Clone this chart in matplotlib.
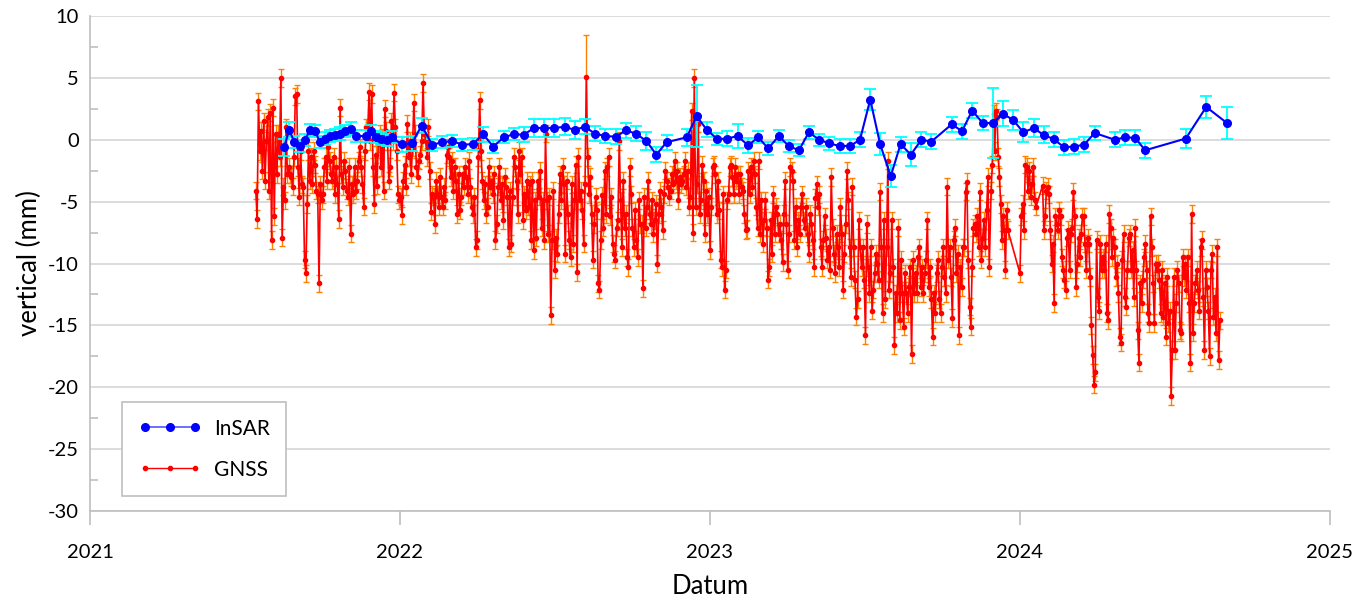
import numpy as np
import matplotlib.pyplot as plt
from matplotlib.lines import Line2D
from matplotlib.ticker import MultipleLocator

plt.rcParams['font.family'] = ['Lato', 'DejaVu Sans']
plt.rcParams['axes.unicode_minus'] = False

# InSAR: decimal year, vertical displacement (mm), error (mm)
insar_t = [2021.626, 2021.643, 2021.659, 2021.677, 2021.694, 2021.710, 2021.726, 2021.742, 2021.758, 2021.774,
           2021.790, 2021.806, 2021.823, 2021.841, 2021.858, 2021.890, 2021.905, 2021.923, 2021.940, 2021.957,
           2021.973, 2022.005, 2022.038, 2022.070, 2022.104, 2022.136, 2022.169, 2022.201, 2022.235, 2022.268,
           2022.301, 2022.335, 2022.367, 2022.399, 2022.432, 2022.465, 2022.498, 2022.531, 2022.564, 2022.596,
           2022.629, 2022.662, 2022.696, 2022.729, 2022.761, 2022.795, 2022.827, 2022.860, 2022.925, 2022.957,
           2022.990, 2023.024, 2023.056, 2023.089, 2023.123, 2023.156, 2023.188, 2023.222, 2023.254, 2023.287,
           2023.319, 2023.353, 2023.385, 2023.418, 2023.452, 2023.484, 2023.517, 2023.549, 2023.583, 2023.615,
           2023.648, 2023.682, 2023.714, 2023.780, 2023.813, 2023.846, 2023.880, 2023.912, 2023.945, 2023.978,
           2024.011, 2024.044, 2024.076, 2024.109, 2024.142, 2024.174, 2024.207, 2024.241, 2024.306, 2024.339,
           2024.372, 2024.404, 2024.535, 2024.601, 2024.668]
insar_v = [-0.6, 0.8, -0.2, -0.5, 0.0, 0.8, 0.7, -0.2, 0.1, 0.3,
           0.4, 0.5, 0.7, 0.9, 0.3, 0.3, 0.7, 0.2, 0.1, 0.0,
           0.2, -0.35, -0.3, 1.15, -0.4, -0.2, -0.1, -0.4, -0.35, 0.45,
           -0.55, 0.2, 0.45, 0.4, 0.95, 0.95, 0.95, 1.05, 0.8, 1.05,
           0.5, 0.3, 0.25, 0.75, 0.5, -0.1, -1.2, -0.2, 0.2, 1.9,
           0.8, 0.05, 0.1, 0.3, -0.45, 0.2, -0.7, 0.3, -0.5, -0.85,
           0.6, 0.0, -0.3, -0.5, -0.5, 0.0, 3.25, -0.35, -2.95, -0.35,
           -1.2, 0.0, -0.15, 1.25, 0.7, 2.35, 1.35, 1.35, 2.1, 1.6,
           0.6, 0.95, 0.4, 0.05, -0.6, -0.55, -0.4, 0.55, 0.0, 0.2,
           0.15, -0.85, 0.1, 2.65, 1.35]
insar_err = [0.7, 0.6, 0.5, 0.5, 0.5, 0.5, 0.5, 0.5, 0.5, 0.5,
             0.5, 0.5, 0.5, 0.5, 0.5, 0.5, 0.5, 0.5, 0.5, 0.5,
             0.5, 0.6, 0.6, 0.6, 0.5, 0.5, 0.5, 0.5, 0.5, 0.6,
             0.5, 0.5, 0.5, 0.6, 0.7, 0.7, 0.7, 0.7, 0.7, 0.6,
             0.6, 0.6, 0.6, 0.6, 0.6, 0.7, 0.6, 0.6, 0.7, 2.5,
             0.6, 0.5, 0.6, 1.0, 0.6, 0.5, 0.5, 0.5, 0.5, 0.5,
             0.5, 0.5, 0.5, 0.6, 0.6, 0.6, 0.85, 0.9, 0.9, 0.6,
             0.9, 0.6, 0.6, 0.6, 0.6, 0.6, 0.6, 2.8, 1.0, 0.8,
             0.8, 0.7, 0.7, 0.6, 0.6, 0.6, 0.6, 0.6, 0.6, 0.6,
             0.6, 0.6, 0.8, 0.9, 1.3]

# GNSS daily solutions, in runs without data gaps (start / end as decimal year)
gnss_start = [2021.535, 2023.907, 2024.000, 2024.073]
gnss_end = [2023.901, 2023.961, 2024.052, 2024.645]

gnss_run1 = [
    # 2021-07 .. 2022-03
    -4.1, -6.4, 3.1, -0.9, 0.7, -2.5, 1.5, -3.3, -0.1, 1.8, -4.1, 2.2, -8.1, 2.6, -6.2, 0.5, -2.8, 0.5, -1.4, 5.0,
    -7.9, -3.8, -4.9, 1.0, -2.8, -2.2, -2.8, -3.0, -3.8, -1.4, 3.5, 3.7, -2.2, -4.6, -0.9, -3.6, -3.8, -9.7, -10.8, -5.2,
    -0.9, -3.3, -1.4, -3.6, -0.9, -2.0, -4.1, -4.4, -11.6, -3.6, -4.9, -4.4, -2.2, -1.4, -3.3, -0.6, -1.7, -2.8, -3.3, -1.4,
    -4.4, -2.2, -3.6, -6.4, 2.6, -2.8, -3.8, -1.7, -2.5, -4.1, -4.6, -2.2, -7.6, -3.6, -4.4, -2.2, -4.1, -3.3, -1.7, -0.6,
    -2.2, -3.6, -5.4, -0.9, 1.0, 0.7, 3.9, -0.1, 3.7, -2.2, -5.2, -1.2, -3.7, -0.3, 0.5, -2.2, 0.2, -4.1, 2.5, 0.7,
    -0.1, -3.3, -2.2, 1.5, -0.1, 3.8, 1.0, -0.9, -4.4, -4.9, -4.6, -6.1, -3.3, -2.0, -3.8, 1.3, -1.4, -0.1, -2.8, -0.6,
    3.0, 0.5, -2.2, -3.0, -1.7, -1.2, -0.1, 4.6, 0.5, -0.1, -1.4, 1.0, -2.5, -5.8, -4.4, -4.6, -6.8, -3.3, -4.4, -5.4,
    -3.0, -4.6, -5.4, -3.8, -4.9, -1.2, -0.6, -1.4, -3.0, -1.7, -4.1, -2.2, -3.3, -6.0, -2.8, -5.7, -4.6, -2.8, -3.8, -2.2,
    -3.0, -4.4, -1.7, -3.8, -5.4, -6.0, -4.6, -8.7, -8.1, -1.4, 3.2, -0.9, -3.3, -4.9, -3.6, -6.0, -5.4, -2.2, -3.8, -3.3,
    -4.4, -2.8, -8.1, -6.8, -3.8,
    # 2022-04 .. 2022-12
    -2.2, -4.9, -3.6, -6.5, -3.0, -3.8, -4.6, -8.7, -4.1, -8.4, -4.6, -1.4, -2.2, -3.3, -6.0, -0.9, -2.8, -1.4, -6.5, -4.4,
    -5.7, -3.3, -5.4, -3.6, -8.1, -3.3, -8.9, -4.9, -7.9, -3.3, -4.6, -2.5, -7.1, -4.9, -8.1, 0.5, -4.9, -7.6, -4.6, -14.2,
    -8.1, -4.1, -10.5, -7.9, -9.2, -6.0, -2.8, -4.9, -2.2, -3.6, -9.2, -3.3, -6.0, -8.1, -9.5, -3.6, -8.4, -4.9, -2.0, -10.7,
    -1.4, -4.9, -4.1, -5.7, -8.4, -3.6, 5.1, -1.4, -4.4, -3.0, -6.0, -9.7, -6.8, -4.6, -5.7, -11.6, -12.1, -8.1, -4.5, -7.1,
    -2.5, -6.0, -2.2, -1.4, -6.2, -4.6, -8.4, -9.2, -9.7, -7.1, -6.5, -0.1, -4.9, -8.7, -3.3, -7.1, -6.0, -9.5, -10.3, -2.2,
    -4.4, -7.1, -8.7, -5.7, -8.1, -9.5, -4.9, -6.8, -6.8, -12.0, -4.6, -7.1, -5.4, -3.3, -6.0, -6.8, -4.9, -7.6, -6.5, -5.2,
    -10.0, -6.0, -4.1, -5.4, -7.3, -4.4, -2.5, -3.3, -3.8, -4.6, -4.1, -2.8, -3.6, -1.7, -3.3, -2.5, -4.9, -3.0, -3.6, -3.3,
    -2.8, -1.7, -3.8, -2.5, -5.4, -4.6, 2.3, -7.5, 5.0, -5.4, -3.6, 1.3, -6.0, -4.9, -2.0, -3.3, -7.6, -4.1, -6.0, -4.6,
    -8.9, -5.4, -2.2, -2.0, -2.8, -6.0, -3.3, -5.7, -9.7, -10.3, -4.4, -12.1, -10.5, -4.9, -4.4, -2.2, -2.0, -3.0, -4.4, -2.2,
    -3.3, -2.8, -4.4, -2.8, -3.8, -4.1, -6.0, -7.3,
    # 2023-01 .. 2023-11
    -7.2, -2.5, -4.4, -2.2, -3.8, -1.7, -2.8, -5.4, -7.1, -1.7, -7.6, -4.9, -8.4, -6.5, -4.9, -7.1, -11.3, -10.3, -6.5, -9.2,
    -4.4, -7.6, -5.4, -6.0, -7.6, -6.8, -8.1, -9.9, -6.0, -3.3, -6.8, -10.5, -7.6, -2.2, -2.5, -3.3, -8.1, -5.4, -8.7, -6.5,
    -7.6, -5.4, -4.4, -6.5, -7.1, -5.4, -7.6, -9.2, -6.0, -6.8, -8.1, -10.3, -4.7, -3.6, -5.4, -4.4, -8.7, -10.3, -8.1, -6.2,
    -7.9, -9.7, -8.7, -10.5, -3.0, -7.1, -9.2, -10.8, -7.6, -8.7, -10.3, -5.4, -7.6, -12.1, -9.2, -6.8, -2.5, -4.9, -8.7, -11.1,
    -3.8, -8.7, -11.3, -14.3, -12.9, -6.5, -8.7, -10.3, -8.7, -11.3, -15.8, -6.8, -10.3, -12.4, -8.7, -13.8, -12.1, -10.8, -9.2, -10.0,
    -11.3, -4.2, -8.7, -14.0, -6.5, -12.9, -8.7, -1.7, -12.1, -10.8, -6.5, -10.3, -16.6, -12.4, -14.0, -7.1, -14.6, -9.7, -12.4, -15.1,
    -10.8, -12.4, -14.0, -11.9, -10.3, -17.3, -9.7, -12.4, -10.8, -12.4, -9.5, -8.7, -11.9, -10.3, -12.4, -10.8, -9.7, -6.5, -11.9, -10.3,
    -12.9, -15.9, -12.4, -14.0, -10.8, -9.7, -12.9, -14.0, -10.3, -8.7, -11.1, -12.4, -3.8, -9.7, -8.7, -11.1, -14.4, -8.1, -7.1, -10.8,
    -9.2, -15.8, -10.3, -11.9, -8.7, -8.7, -4.2, -3.4, -9.7, -13.5, -15.1, -10.3, -7.1, -6.8, -7.6, -6.2, -8.7, -4.2, -9.7, -7.9,
    -6.5, -8.7, -5.7, -3.0, -10.3,
]
gnss_run2 = [-4.1, -2.0, 2.1, -0.9, 2.3, 1.8, -1.4, -3.0, -5.2, -8.1, -6.2, -7.3, -10.5, -5.7, -7.3]
gnss_run3 = [-10.8, -6.2, -5.2, -7.3, -2.0, -2.2, -4.1, -2.5, -4.6, -3.6, -2.2, -4.9, -5.4]
gnss_run4 = [
    -3.7, -7.3, -6.2, -4.1, -3.8, -4.4, -7.3, -10.0, -8.4, -13.2, -6.2, -6.8, -7.3, -5.7, -6.2, -9.5, -10.5, -11.3, -12.1, -7.9,
    -7.3, -10.5, -7.6, -7.1, -4.2, -6.2, -11.9, -10.0, -7.9, -9.5, -7.6, -6.2, -6.2, -8.4, -10.5, -7.9, -8.4, -11.1, -15.0, -17.4,
    -19.8, -18.8, -8.1, -12.7, -13.8, -8.4, -10.5, -9.5, -10.5, -8.4, -14.0, -14.6, -6.0, -7.1, -9.5, -7.9, -8.7, -11.1, -10.0, -12.4,
    -15.9, -16.4, -9.7, -7.6, -12.7, -13.5, -10.5, -7.9, -7.6, -10.5, -8.9, -12.7, -7.1, -10.5, -15.4, -18.0, -11.6, -13.2, -11.3, -9.5,
    -8.4, -10.5, -14.0, -14.8, -6.2, -8.7, -11.6, -14.8, -10.0, -10.5, -10.0, -11.3, -14.0, -10.5, -14.3, -11.6, -15.9, -11.1, -14.8, -13.8,
    -20.7, -17.0, -11.1, -17.0, -13.2, -10.5, -11.6, -15.4, -15.6, -9.5, -11.1, -10.0, -12.1, -9.5, -13.2, -18.0, -6.0, -15.6, -13.2, -11.6,
    -10.5, -12.1, -13.8, -8.7, -8.1, -12.7, -17.0, -10.5, -11.9, -13.8, -17.5, -10.5, -9.2, -14.3, -12.7, -15.6, -8.7, -17.8, -14.6,
]
gnss_err = 0.7
# one outlier with a much larger error bar (Aug 2022)
spike_t, spike_err = 2022.596, 3.4

gnss_runs = [gnss_run1, gnss_run2, gnss_run3, gnss_run4]
gnss_t = np.concatenate([np.linspace(a, b, len(v)) for a, b, v in zip(gnss_start, gnss_end, gnss_runs)])
gnss_y = np.concatenate([np.array(v, dtype=float) for v in gnss_runs])
gnss_e = np.full(gnss_y.size, gnss_err)
near = np.flatnonzero(np.abs(gnss_t - spike_t) < 0.01)
gnss_e[near[np.argmax(gnss_y[near])]] = spike_err

fig = plt.figure(figsize=(13.55, 6.0), dpi=100)
ax = fig.add_axes([0.0664, 0.1483, 0.9151, 0.825])

# GNSS
ax.errorbar(gnss_t, gnss_y, yerr=gnss_e, fmt='none', ecolor='#ff8000', elinewidth=1,
            capsize=2, capthick=1, zorder=2)
ax.plot(gnss_t, gnss_y, color='#ff0000', lw=1.2, marker='o', ms=3, zorder=3)

# InSAR
ax.errorbar(insar_t, insar_v, yerr=insar_err, fmt='none', ecolor='#00ffff', elinewidth=1.3,
            capsize=4, capthick=1.3, zorder=4)
ax.plot(insar_t, insar_v, color='#0000ff', lw=1.5, marker='o', ms=5.5, zorder=5)

ax.set_xlim(2021, 2025)
ax.set_ylim(-30, 10)
ax.set_xticks([2021, 2022, 2023, 2024, 2025])
ax.set_xticklabels(['2021', '2022', '2023', '2024', '2025'])
ax.set_yticks(np.arange(-30, 11, 5))
ax.yaxis.set_minor_locator(MultipleLocator(2.5))

ax.yaxis.grid(True, color='#d9d9d9', lw=1.3)
ax.set_axisbelow(True)
for s in ['top', 'right']:
    ax.spines[s].set_visible(False)
for s in ['left', 'bottom']:
    ax.spines[s].set_color('#bfbfbf')
    ax.spines[s].set_linewidth(1.2)

ax.tick_params(axis='x', direction='out', length=10, width=1.2, color='#bfbfbf',
               labelsize=14.5, pad=14)
ax.tick_params(axis='y', which='major', length=0, labelsize=14.5, pad=8)
ax.tick_params(axis='y', which='minor', direction='in', length=6, width=1.2, color='#bfbfbf')

ax.set_xlabel('Datum', fontsize=18.5, labelpad=9)
ax.set_ylabel('vertical (mm)', fontsize=18.5, labelpad=4)

h_insar = Line2D([], [], color='#5555ff', lw=1.2, marker='o', ms=5.5, mfc='#0000ff', mec='#0000ff')
h_gnss = Line2D([], [], color='#ff0000', lw=1, marker='o', ms=3)
leg = ax.legend([h_insar, h_gnss], ['InSAR', 'GNSS'], loc='lower left', bbox_to_anchor=(0.026, 0.03),
                borderaxespad=0, numpoints=3, handlelength=3.0, fontsize=15, labelspacing=1.0,
                borderpad=0.8, handletextpad=0.6, fancybox=False, framealpha=1, edgecolor='#bfbfbf')
leg.get_frame().set_linewidth(1.2)

fig.savefig('out.png', dpi=100)
